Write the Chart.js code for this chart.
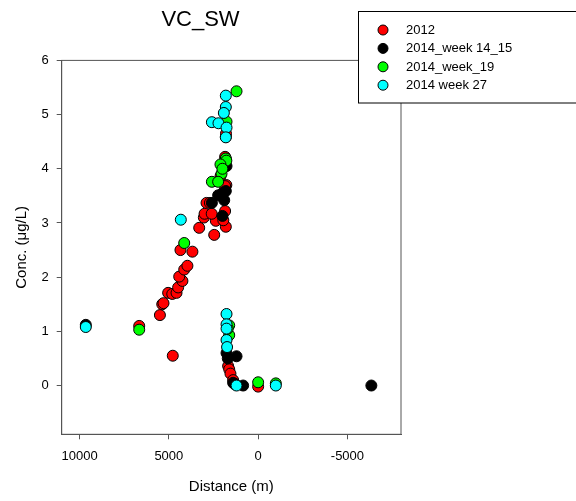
<!DOCTYPE html>
<html lang="en">
<head>
    <meta charset="UTF-8">
    <title>VC_SW</title>
    <script src="https://cdn.jsdelivr.net/npm/chart.js@4.4.1/dist/chart.umd.min.js"></script>
    <style>
        body {
            margin: 0;
            background-color: white;
        }
        #wrap {
            width: 576px;
            height: 501px;
        }
    </style>
</head>
<body>
    <div id="wrap"><canvas id="chart" width="576" height="501"></canvas></div>

    <script>
// series data: distance (m) and concentration
const seriesNames = ['2012', '2014_week 14_15', '2014_week_19', '2014 week 27'];
const seriesColors = ['#ff0000', '#000000', '#00ff00', '#00ffff'];

const dist2012 = [5500, 5370, 5300, 5040, 4810, 4570, 4480, 4240, 4420, 4140, 3960, 4350, 3680, 3300, 2460, 2370,
    3040, 3000, 2600, 2890, 2700, 1810, 1850, 1950, 1780, 1850, 2100, 1850, 1820, 1810, 1800, 4780, 6660,
    1680, 1620, 1550, 1400, 1300, 0];
const conc2012 = [1.30, 1.50, 1.52, 1.71, 1.69, 1.71, 1.81, 1.93, 2.01, 2.14, 2.21, 2.50, 2.47, 2.91, 2.78, 3.04,
    3.10, 3.17, 3.17, 3.37, 3.37, 2.93, 3.22, 3.05, 3.70, 3.68, 3.87, 4.22, 4.18, 4.59, 4.65, 0.55, 1.10,
    0.36, 0.30, 0.22, 0.10, 0.03, -0.02];

const distWk14 = [2590, 2240, 2000, 1810, 1900, 2000, 1770, 9650, 1770, 1210, 1700, 1400, 1300, 840, -6340];
const concWk14 = [3.37, 3.51, 3.55, 3.59, 3.42, 3.13, 4.05, 1.12, 0.60, 0.54, 0.50, 0.05, 0.02, 0.00, 0.00];

const distWk19 = [1210, 1770, 1810, 1780, 2110, 2050, 2000, 2590, 2240, 4140, 6660, 1620, 1620, 1700, 0, -990];
const concWk19 = [5.43, 4.87, 4.19, 4.15, 4.08, 3.91, 4.00, 3.76, 3.76, 2.63, 1.03, 1.11, 0.93, 1.05, 0.06, 0.04];

const distWk27 = [1810, 1810, 1920, 2590, 2220, 1770, 1810, 4330, 9650, 1770, 1770, 1770, 1770, 1740, 1210, -990];
const concWk27 = [5.35, 5.14, 5.03, 4.86, 4.84, 4.76, 4.58, 3.06, 1.08, 1.32, 1.13, 1.05, 0.84, 0.71, 0.00, 0.00];

const xTicks = [10000, 5000, 0, -5000];
const yTicks = [0, 1, 2, 3, 4, 5, 6];

const allDist = [dist2012, distWk14, distWk19, distWk27];
const allConc = [conc2012, concWk14, concWk19, concWk27];

// later series are painted on top
const datasets = seriesNames.map((name, i) => ({
    label: name,
    data: allDist[i].map((d, j) => ({ x: d, y: allConc[i][j] })),
    backgroundColor: seriesColors[i],
    borderColor: '#000000',
    borderWidth: 1,
    pointRadius: 5.5,
    pointHoverRadius: 5.5,
    order: seriesNames.length - i
}));

const axisColor = '#555555';
const fontFamily = 'Arial, "Liberation Sans", sans-serif';

// frame round the plot area
const framePlugin = {
    id: 'frame',
    afterDatasetsDraw(chart) {
        const a = chart.chartArea;
        const ctx = chart.ctx;
        ctx.save();
        ctx.strokeStyle = axisColor;
        ctx.lineWidth = 1;
        ctx.strokeRect(a.left, a.top, a.right - a.left, a.bottom - a.top);
        ctx.restore();
    }
};

// boxed legend sitting over the top right corner
const boxLegendPlugin = {
    id: 'boxLegend',
    afterDraw(chart) {
        const ctx = chart.ctx;
        ctx.save();
        ctx.fillStyle = '#ffffff';
        ctx.strokeStyle = '#000000';
        ctx.lineWidth = 1;
        ctx.fillRect(358.5, 11.5, 230, 91.5);
        ctx.strokeRect(358.5, 11.5, 230, 91.5);
        ctx.font = '13px ' + fontFamily;
        ctx.textBaseline = 'middle';
        chart.data.datasets.forEach((ds, i) => {
            const y = 30 + i * 18.4;
            ctx.beginPath();
            ctx.arc(383, y, 5, 0, Math.PI * 2);
            ctx.fillStyle = ds.backgroundColor;
            ctx.fill();
            ctx.strokeStyle = '#000000';
            ctx.stroke();
            ctx.fillStyle = '#000000';
            ctx.fillText(ds.label, 406, y + 0.5);
        });
        ctx.restore();
    }
};

new Chart(document.getElementById('chart'), {
    type: 'scatter',
    data: { datasets: datasets },
    options: {
        responsive: false,
        animation: false,
        devicePixelRatio: 1,
        layout: { padding: { left: 0, right: 175, top: 0, bottom: 0 } },
        plugins: {
            legend: { display: false },
            tooltip: { enabled: false },
            title: {
                display: true,
                text: 'VC_SW',
                color: '#000000',
                font: { family: fontFamily, size: 22, weight: 'normal' },
                padding: { top: 7, bottom: 27 }
            }
        },
        scales: {
            x: {
                type: 'linear',
                reverse: true,
                min: -8000,
                max: 11000,
                afterBuildTicks: scale => { scale.ticks = xTicks.map(v => ({ value: v })); },
                afterFit: scale => { scale.height = 66.7; },
                grid: { drawOnChartArea: false, drawTicks: true, tickLength: 5, color: axisColor },
                border: { display: true, color: axisColor },
                ticks: {
                    color: '#000000',
                    padding: 9,
                    maxRotation: 0,
                    font: { family: fontFamily, size: 13 },
                    callback: v => String(v)
                },
                title: {
                    display: true,
                    text: 'Distance (m)',
                    color: '#000000',
                    font: { family: fontFamily, size: 15 },
                    padding: { top: 5, bottom: 5 }
                }
            },
            y: {
                type: 'linear',
                min: -0.9,
                max: 6,
                afterBuildTicks: scale => { scale.ticks = yTicks.map(v => ({ value: v })); },
                afterFit: scale => { scale.width = 61.7; },
                grid: { drawOnChartArea: false, drawTicks: true, tickLength: 5, color: axisColor },
                border: { display: true, color: axisColor },
                ticks: {
                    color: '#000000',
                    padding: 8,
                    font: { family: fontFamily, size: 13 },
                    callback: v => String(v)
                },
                title: {
                    display: true,
                    text: 'Conc. (μg/L)',
                    color: '#000000',
                    font: { family: fontFamily, size: 15 },
                    padding: { top: 13, bottom: 13 }
                }
            }
        }
    },
    plugins: [framePlugin, boxLegendPlugin]
});
    </script>
</body>
</html>
